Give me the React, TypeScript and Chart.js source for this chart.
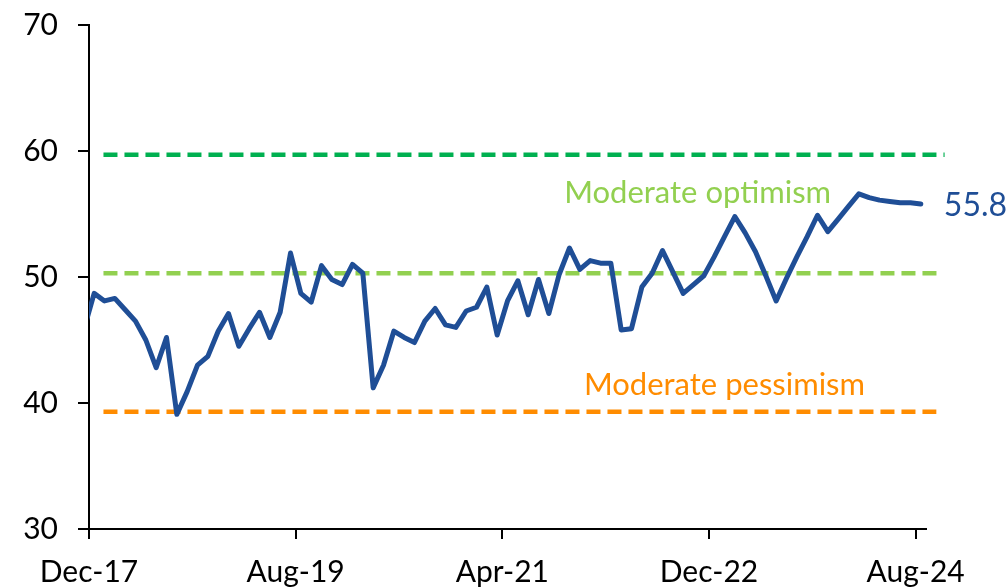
import { useEffect, useRef } from "react";
import { Chart, registerables } from "chart.js";

Chart.register(...registerables);

// Months: Nov-17 .. Aug-24 (the Nov-17 point is clipped by the y axis)
const MONTH_NAMES = ["Jan", "Feb", "Mar", "Apr", "May", "Jun", "Jul", "Aug", "Sep", "Oct", "Nov", "Dec"];
const months: string[] = [];
for (let m = 10, y = 17; ; m++) {
  if (m === 12) { m = 0; y++; }
  months.push(`${MONTH_NAMES[m]}-${y}`);
  if (y === 24 && m === 7) break;
}

const sentiment: number[] = [
  45.8, // Nov-17
  48.7, 48.1, 48.3, 47.4, 46.5, 45.0, 42.8, 45.2, 39.1, 40.9, 43.0, 43.7, 45.7,
  47.1, 44.5, 45.9, 47.2, 45.2, 47.2, 51.9, 48.7, 48.0, 50.9, 49.8, 49.4, 51.0,
  50.3, 41.2, 43.0, 45.7, 45.2, 44.8, 46.5, 47.5, 46.2, 46.0, 47.3, 47.6, 49.2,
  45.4, 48.1, 49.7, 47.0, 49.8, 47.1, 50.2, 52.3, 50.6, 51.3, 51.1, 51.1, 45.8,
  45.9, 49.2, 50.3, 52.1, 50.4, 48.7, 49.4, 50.1, 51.6, 53.2, 54.8, 53.5, 52.0,
  50.1, 48.1, 49.9, 51.6, 53.2, 54.9, 53.6, 54.6, 55.6, 56.6, 56.3, 56.1, 56.0,
  55.9, 55.9, 55.8,
];

const xTickValues = [0, 20, 40, 60, 80];
const xTickLabels = ["Dec-17", "Aug-19", "Apr-21", "Dec-22", "Aug-24"];

const thresholdLevels = [59.7, 50.3, 39.3];
const thresholdNames = ["Optimism", "Moderate optimism", "Moderate pessimism"];

// styling / placement (kept separate from the data)
const BLUE = "#1F4E96";
const thresholdColors = ["#00B050", "#92D050", "#FF8C00"];
const thresholdSpans = [[1.4, 82.8], [1.4, 82.3], [1.4, 82.0]];
const zoneLabelPlacement = [
  { level: 1, x: 58.9, y: 55.9 },
  { level: 2, x: 61.5, y: 40.66 },
];
const FONT = "Lato";

export default function App() {
  const ref = useRef<HTMLCanvasElement | null>(null);

  useEffect(() => {
    if (!ref.current) return;

    const labelPlugin = {
      id: "zoneLabels",
      afterDatasetsDraw(chart: any) {
        const { ctx, scales } = chart;
        const xs = scales.x;
        const ys = scales.y;
        ctx.save();
        ctx.font = `31px ${FONT}`;
        ctx.textAlign = "center";
        ctx.textBaseline = "alphabetic";
        for (const p of zoneLabelPlacement) {
          ctx.fillStyle = thresholdColors[p.level];
          ctx.fillText(thresholdNames[p.level], xs.getPixelForValue(p.x), ys.getPixelForValue(p.y));
        }
        const meta = chart.getDatasetMeta(0);
        const last = meta.data[meta.data.length - 1];
        ctx.font = `32px ${FONT}`;
        ctx.fillStyle = BLUE;
        ctx.textAlign = "left";
        ctx.textBaseline = "middle";
        ctx.fillText(sentiment[sentiment.length - 1].toFixed(1), last.x + 23, last.y + 2);
        ctx.restore();
      },
    };

    const datasets: any[] = [
      {
        label: "Sentiment",
        data: sentiment.map((v, i) => ({ x: i - 0.5, y: v })),
        borderColor: BLUE,
        borderWidth: 5,
        pointRadius: 0,
        tension: 0,
        borderJoinStyle: "round",
        borderCapStyle: "round",
        clip: 0,
      },
      ...thresholdLevels.map((lvl, k) => ({
        label: thresholdNames[k],
        data: thresholdSpans[k].map((x) => ({ x, y: lvl })),
        borderColor: thresholdColors[k],
        borderWidth: 4.5,
        borderDash: [14, 7],
        borderCapStyle: "butt",
        pointRadius: 0,
        clip: false,
      })),
    ];

    const chart = new Chart(ref.current, {
      type: "line",
      data: { datasets },
      plugins: [labelPlugin],
      options: {
        animation: false,
        responsive: true,
        maintainAspectRatio: false,
        layout: { padding: { top: 25, right: 82, left: 0, bottom: 0 } },
        plugins: { legend: { display: false }, tooltip: { enabled: false } },
        scales: {
          x: {
            type: "linear",
            min: 0,
            max: 81,
            afterBuildTicks: (scale: any) => {
              scale.ticks = xTickValues.map((value) => ({ value }));
            },
            afterFit: (scale: any) => {
              scale.height = 58;
              scale.paddingLeft = 0;
              scale.paddingRight = 0;
            },
            ticks: {
              autoSkip: false,
              maxRotation: 0,
              padding: 15,
              color: "#000",
              font: { family: FONT, size: 30 },
              callback: (v: any) => {
                const i = xTickValues.indexOf(Number(v));
                return i >= 0 ? xTickLabels[i] : "";
              },
            },
            grid: { drawOnChartArea: false, drawTicks: true, tickLength: 10, color: "#000", lineWidth: 2 },
            border: { display: true, color: "#000", width: 2 },
          },
          y: {
            min: 30,
            max: 70,
            afterFit: (scale: any) => {
              scale.width = 89;
              scale.paddingTop = 0;
              scale.paddingBottom = 0;
            },
            ticks: {
              stepSize: 10,
              padding: 20,
              color: "#000",
              font: { family: FONT, size: 30 },
            },
            grid: { drawOnChartArea: false, drawTicks: true, tickLength: 11, color: "#000", lineWidth: 2 },
            border: { display: true, color: "#000", width: 2 },
          },
        },
      },
    });
    return () => chart.destroy();
  }, []);

  return (
    <div style={{ position: "absolute", left: 0, top: 0, width: 1008, height: 587, background: "#fff" }}>
      <canvas ref={ref} />
    </div>
  );
}
